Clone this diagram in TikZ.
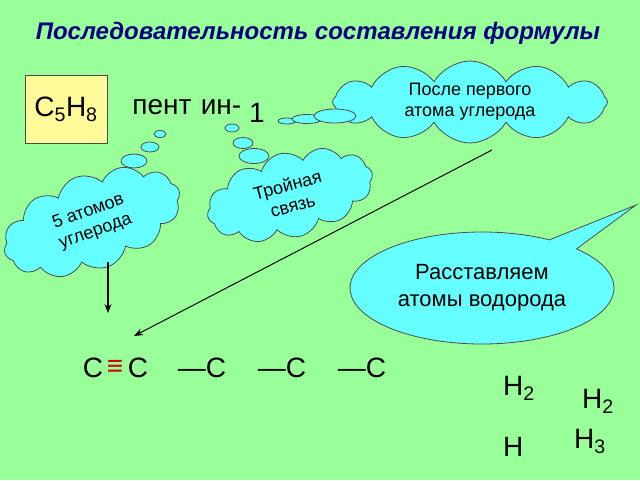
\documentclass[tikz,border=0pt]{standalone}
\usepackage{fontspec}
\setmainfont{Liberation Sans}
\usetikzlibrary{shapes.symbols,shapes.callouts,shapes.geometric,arrows.meta}
\definecolor{bg}{HTML}{99FF99}
\definecolor{cl}{HTML}{66FFFF}
\definecolor{tt}{HTML}{000080}
\tikzset{
 cloudy/.style={cloud,cloud puffs=12,cloud puff arc=120,cloud ignores aspect,inner sep=0pt,draw=black!70,fill=cl,line width=0.8pt,align=center,font=\fontsize{18}{21}\selectfont},
 bub/.style={ellipse,draw=black!70,fill=cl,line width=0.8pt,inner sep=0pt},
 big/.style={font=\fontsize{28}{30}\selectfont,inner sep=0pt}
}
\begin{document}
\begin{tikzpicture}[x=1pt,y=-1pt]
\fill[bg] (0,0) rectangle (640,480);
\useasboundingbox (0,0) rectangle (640,480);
\node[font=\bfseries\itshape\fontsize{24}{26}\selectfont,text=tt] (title) at (318,33) {Последовательность составления формулы};
\node[draw=black!70,fill=yellow!40,minimum width=82,minimum height=68,font=\fontsize{28}{30}\selectfont] (box) at (66,109) {C\textsubscript{5}H\textsubscript{8}};
\node[big] (pent) at (162,107) {пент};
\node[big] (in) at (221,107) {ин-};
\node[big] (one) at (257,113) {1};
% top right cloud
\node[cloudy,minimum width=275,minimum height=82] (c1) at (470,102) {После первого\\атома углерода};
\node[bub,minimum width=18,minimum height=6] (b11) at (287,121) {};
\node[bub,minimum width=30,minimum height=9] (b12) at (307,119) {};
\node[bub,minimum width=42,minimum height=14] (b13) at (335,116) {};
% middle cloud
\node[cloudy,minimum width=170,minimum height=85,rotate=15] (c2) at (290,195) {Тройная\\связь};
\node[bub,minimum width=14,minimum height=8] (b21) at (232,128) {};
\node[bub,minimum width=20,minimum height=11] (b22) at (243,143) {};
\node[bub,minimum width=30,minimum height=15] (b23) at (254,156) {};
% left cloud
\node[cloudy,minimum width=185,minimum height=95,rotate=20] (c3) at (92,222) {5 атомов\\углерода};
\node[bub,minimum width=12,minimum height=7] (b31) at (160,134) {};
\node[bub,minimum width=18,minimum height=10] (b32) at (150,147) {};
\node[bub,minimum width=26,minimum height=14] (b33) at (134,161) {};
% callout
\coordinate (tip) at (636,205);
\node[ellipse callout,callout absolute pointer={(tip)},draw=black!70,fill=cl,line width=0.8pt,minimum width=264,minimum height=112,inner sep=0pt,align=center,font=\fontsize{22}{27}\selectfont] (co) at (482,288) {Расставляем\\атомы водорода};
% arrows
\coordinate (a1) at (108,262); \coordinate (a2) at (108,313);
\draw[-{Stealth[length=9pt,width=7pt]},line width=1.2pt] (a1) -- (a2);
\coordinate (l1) at (492,150); \coordinate (l2) at (134,336);
\draw[-{Stealth[length=9pt,width=7pt]},line width=1pt] (l1) -- (l2);
% formula
\node[big] (f1) at (93,368) {C};
\node[big,text=red!80!black] (f2) at (115,368) {\textbf{≡}};
\node[big] (f3) at (138,368) {C};
\node[big] (f4) at (202,368) {—C};
\node[big] (f5) at (282,368) {—C};
\node[big] (f6) at (362,368) {—C};
\node[big,anchor=base west] (h1) at (503,395) {H\textsubscript{2}};
\node[big,anchor=base west] (h2) at (582,408) {H\textsubscript{2}};
\node[big,anchor=base west] (h3) at (574,448) {H\textsubscript{3}};
\node[big,anchor=base west] (h4) at (503,456) {H};
\end{tikzpicture}
\end{document}
